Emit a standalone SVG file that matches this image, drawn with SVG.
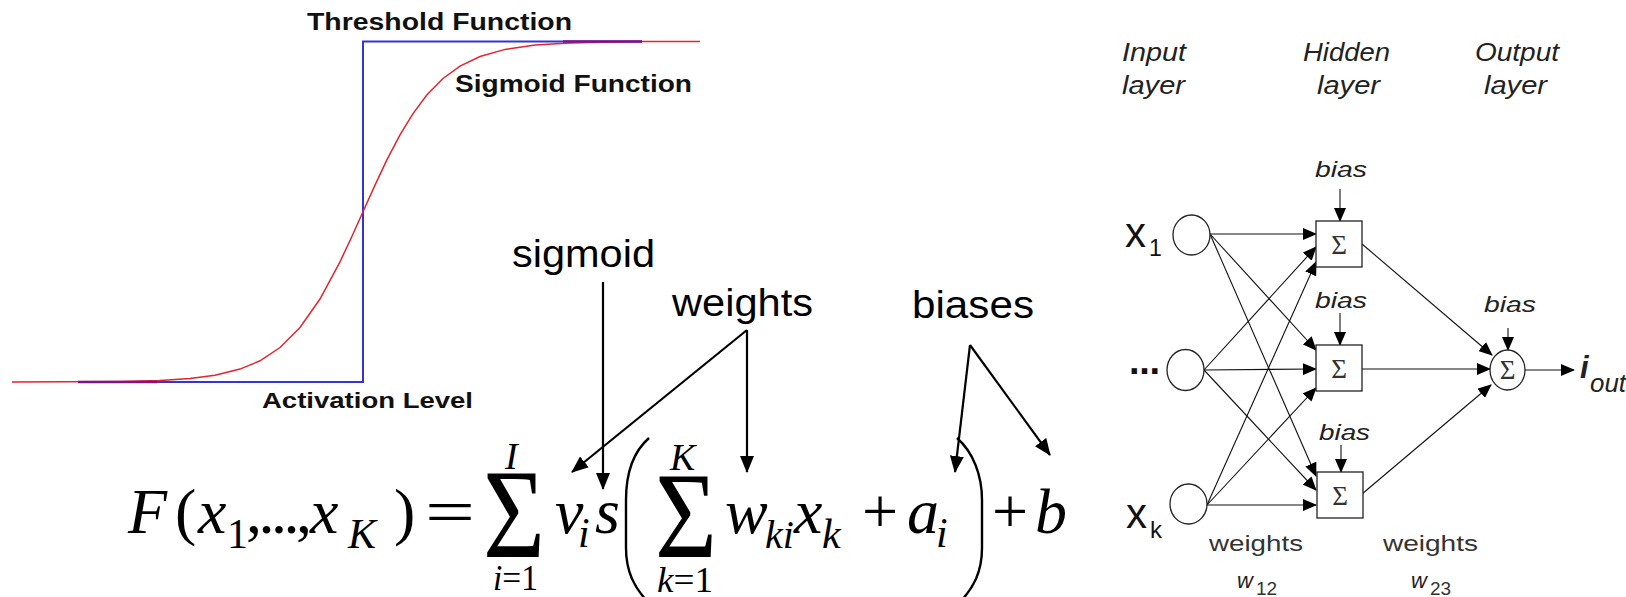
<svg xmlns="http://www.w3.org/2000/svg" width="1626" height="597" viewBox="0 0 1626 597">
<style>
.clbl{font-family:"Liberation Sans",Arial,sans-serif;font-weight:bold;fill:#111}
.lbl{font-family:"Liberation Sans",Arial,sans-serif;font-size:38px;fill:#000}
.m{font-family:"Liberation Serif","Times New Roman",serif;font-style:italic;fill:#000}
.mu{font-family:"Liberation Serif","Times New Roman",serif;font-style:normal;fill:#000}
.nn{font-family:"Liberation Sans",Arial,sans-serif;font-style:italic;fill:#222}
.nnu{font-family:"Liberation Sans",Arial,sans-serif;font-style:normal;fill:#111}
.nnw{font-family:"Liberation Sans",Arial,sans-serif;font-style:normal;fill:#333}
.sig{font-family:"Liberation Serif","Times New Roman",serif;font-size:27px;fill:#333;text-anchor:middle}
.ann{stroke:#000;stroke-width:2.2;fill:none;marker-end:url(#ah)}
.nl{stroke:#111;stroke-width:1.1;fill:none;marker-end:url(#sh)}
.node{fill:#fff;stroke:#222;stroke-width:1.3}
</style>
<defs>
<marker id="ah" markerUnits="userSpaceOnUse" markerWidth="17" markerHeight="14" refX="16" refY="7" orient="auto"><path d="M0,0 L17,7 L0,14 z" fill="#000"/></marker>
<marker id="sh" markerUnits="userSpaceOnUse" markerWidth="14" markerHeight="12" refX="13" refY="6" orient="auto"><path d="M0,0 L14,6 L0,12 z" fill="#000"/></marker>
</defs>
<rect width="1626" height="597" fill="#fff"/>

<g id="chart">
<path d="M78,382 H363 V41.5 H642" fill="none" stroke="#3434d6" stroke-width="2"/>
<polyline fill="none" stroke="#e4242c" stroke-width="1.5" points="12,382 120,381.4 160,380.4 190,378.5 215,375.2 240,369.1 260,360.8 280,347.5 300,327.5 320,299 340,261.8 352,236.3 363,211.8 375,185.1 387,159.7 400,134.9 413,113.6 427,94.8 443,78.5 460,66.1 480,56.5 505,49.4 535,45.1 570,43 610,42 640,41.6 700,41.5"/>
<line x1="78" y1="382" x2="157" y2="382" stroke="#7a148c" stroke-width="2.4"/>
<line x1="563" y1="41.5" x2="642" y2="41.5" stroke="#7a148c" stroke-width="2.4"/>
<text class="clbl" x="307" y="30" font-size="23.5" textLength="265" lengthAdjust="spacingAndGlyphs">Threshold Function</text>
<text class="clbl" x="455" y="92" font-size="23.5" textLength="237" lengthAdjust="spacingAndGlyphs">Sigmoid Function</text>
<text class="clbl" x="262" y="408" font-size="22" textLength="211" lengthAdjust="spacingAndGlyphs">Activation Level</text>
</g>

<g id="formula">
<text class="m" font-size="64" x="128" y="533">F</text>
<text class="mu" font-size="64" x="175" y="533">(</text>
<text class="m" font-size="64" x="198" y="533">x</text>
<text class="mu" font-size="42" x="227" y="548">1</text>
<text class="mu" font-size="64" x="246" y="533" textLength="66" lengthAdjust="spacing">,...,</text>
<text class="m" font-size="64" x="310" y="533">x</text>
<text class="m" font-size="42" x="348" y="548">K</text>
<text class="mu" font-size="64" x="394" y="533">)</text>
<text class="mu" font-size="64" x="425" y="533" textLength="50" lengthAdjust="spacingAndGlyphs">=</text>
<text class="mu" font-size="128" x="483" y="557" textLength="62" lengthAdjust="spacingAndGlyphs">Σ</text>
<text class="m" font-size="38" x="505" y="469">I</text>
<text class="m" font-size="36" x="493" y="590" textLength="45" lengthAdjust="spacingAndGlyphs">i<tspan font-style="normal">=1</tspan></text>
<text class="m" font-size="64" x="555" y="533">v</text>
<text class="m" font-size="42" x="578" y="547">i</text>
<text class="m" font-size="64" x="595" y="533">s</text>
<path d="M649,438 C633,452 626,475 626,500 L626,548 C626,570 633,588 652,606" fill="none" stroke="#000" stroke-width="2.4"/>
<text class="mu" font-size="122" x="655" y="557" textLength="62" lengthAdjust="spacingAndGlyphs">Σ</text>
<text class="m" font-size="38" x="670" y="470">K</text>
<text class="m" font-size="36" x="657" y="592" textLength="56" lengthAdjust="spacingAndGlyphs">k<tspan font-style="normal">=1</tspan></text>
<text class="m" font-size="64" x="725" y="533">w</text>
<text class="m" font-size="40" x="765" y="548">ki</text>
<text class="m" font-size="64" x="794" y="533">x</text>
<text class="m" font-size="42" x="822" y="548">k</text>
<text class="mu" font-size="64" x="862" y="533">+</text>
<text class="m" font-size="64" x="907" y="533">a</text>
<text class="m" font-size="42" x="936" y="547">i</text>
<path d="M957,438 C973,452 982,475 982,500 L982,548 C982,570 975,588 956,606" fill="none" stroke="#000" stroke-width="2.4"/>
<text class="mu" font-size="64" x="992" y="533">+</text>
<text class="m" font-size="64" x="1035" y="533">b</text>
</g>

<g id="annotations">
<text class="lbl" x="512" y="267" textLength="143" lengthAdjust="spacingAndGlyphs">sigmoid</text>
<text class="lbl" x="672" y="316" textLength="141" lengthAdjust="spacingAndGlyphs">weights</text>
<text class="lbl" x="912" y="318" textLength="122" lengthAdjust="spacingAndGlyphs">biases</text>
</g>

<g id="annotation-arrows">
<line class="ann" x1="603" y1="282" x2="603" y2="489"/>
<line class="ann" x1="747" y1="330" x2="572" y2="472"/>
<line class="ann" x1="747" y1="330" x2="747" y2="472"/>
<line class="ann" x1="970" y1="345" x2="955" y2="472"/>
<line class="ann" x1="970" y1="345" x2="1050" y2="455"/>
</g>

<g id="layer-labels">
<text class="nn" font-size="25" x="1122" y="61" textLength="64" lengthAdjust="spacingAndGlyphs">Input</text>
<text class="nn" font-size="25" x="1122" y="94" textLength="63" lengthAdjust="spacingAndGlyphs">layer</text>
<text class="nn" font-size="25" x="1303" y="61" textLength="87" lengthAdjust="spacingAndGlyphs">Hidden</text>
<text class="nn" font-size="25" x="1317" y="94" textLength="63" lengthAdjust="spacingAndGlyphs">layer</text>
<text class="nn" font-size="25" x="1475" y="61" textLength="84" lengthAdjust="spacingAndGlyphs">Output</text>
<text class="nn" font-size="25" x="1484" y="94" textLength="63" lengthAdjust="spacingAndGlyphs">layer</text>
</g>

<g id="connectors">
<line class="nl" x1="1210" y1="234" x2="1316" y2="234"/>
<line class="nl" x1="1210" y1="234" x2="1316" y2="350"/>
<line class="nl" x1="1210" y1="234" x2="1316" y2="476"/>
<line class="nl" x1="1204" y1="370" x2="1316" y2="247"/>
<line class="nl" x1="1204" y1="370" x2="1316" y2="369"/>
<line class="nl" x1="1204" y1="370" x2="1316" y2="490"/>
<line class="nl" x1="1207" y1="505" x2="1316" y2="262"/>
<line class="nl" x1="1207" y1="505" x2="1316" y2="388"/>
<line class="nl" x1="1207" y1="505" x2="1316" y2="505"/>
<line class="nl" x1="1362" y1="244" x2="1492" y2="355"/>
<line class="nl" x1="1362" y1="369" x2="1490" y2="369"/>
<line class="nl" x1="1362" y1="494" x2="1491" y2="385"/>
<line class="nl" x1="1340" y1="189" x2="1340" y2="221"/>
<line class="nl" x1="1340" y1="313" x2="1340" y2="345"/>
<line class="nl" x1="1341" y1="445" x2="1341" y2="472"/>
<line class="nl" x1="1508" y1="328" x2="1508" y2="350"/>
<line class="nl" x1="1525" y1="370" x2="1574" y2="370"/>
</g>

<g id="in1">
<ellipse class="node" cx="1191.5" cy="235" rx="18.5" ry="20"/>
<text class="nnu" font-size="42" x="1125" y="247">x</text>
<text class="nnu" font-size="23" x="1149" y="256">1</text>
</g>
<g id="in2">
<ellipse class="node" cx="1185.5" cy="370" rx="18.5" ry="20.5"/>
<text class="nnu" font-size="38" x="1129" y="374" font-weight="bold" textLength="31" lengthAdjust="spacing">...</text>
</g>
<g id="in3">
<ellipse class="node" cx="1188.5" cy="504" rx="18.5" ry="20"/>
<text class="nnu" font-size="42" x="1126" y="528">x</text>
<text class="nnu" font-size="24" x="1150" y="538">k</text>
</g>
<g id="h1">
<rect class="node" x="1316" y="221" width="46" height="46"/>
<text class="sig" x="1339" y="254">Σ</text>
<text class="nn" font-size="22" x="1315" y="177" textLength="52" lengthAdjust="spacingAndGlyphs">bias</text>
</g>
<g id="h2">
<rect class="node" x="1316" y="345" width="46" height="46"/>
<text class="sig" x="1339" y="378">Σ</text>
<text class="nn" font-size="22" x="1315" y="308" textLength="52" lengthAdjust="spacingAndGlyphs">bias</text>
</g>
<g id="h3">
<rect class="node" x="1317" y="472" width="46" height="46"/>
<text class="sig" x="1340" y="505">Σ</text>
<text class="nn" font-size="22" x="1319" y="440" textLength="51" lengthAdjust="spacingAndGlyphs">bias</text>
</g>
<g id="out">
<ellipse class="node" cx="1507.5" cy="370" rx="17.5" ry="20"/>
<text class="sig" x="1507.5" y="379">Σ</text>
<text class="nn" font-size="22" x="1484" y="312" textLength="52" lengthAdjust="spacingAndGlyphs">bias</text>
<text class="nn" font-size="31" font-weight="bold" x="1580" y="378">i</text>
<text class="nn" font-size="25" x="1590" y="392" textLength="36" lengthAdjust="spacingAndGlyphs">out</text>
</g>

<g id="weight-labels">
<text class="nnw" font-size="22" x="1209" y="551" textLength="94" lengthAdjust="spacingAndGlyphs">weights</text>
<text class="nn" font-size="22" x="1237" y="588" fill="#333">w</text>
<text class="nnw" font-size="19" x="1256" y="595">12</text>
<text class="nnw" font-size="22" x="1383" y="551" textLength="95" lengthAdjust="spacingAndGlyphs">weights</text>
<text class="nn" font-size="22" x="1411" y="588" fill="#333">w</text>
<text class="nnw" font-size="19" x="1430" y="595">23</text>
</g>
</svg>
